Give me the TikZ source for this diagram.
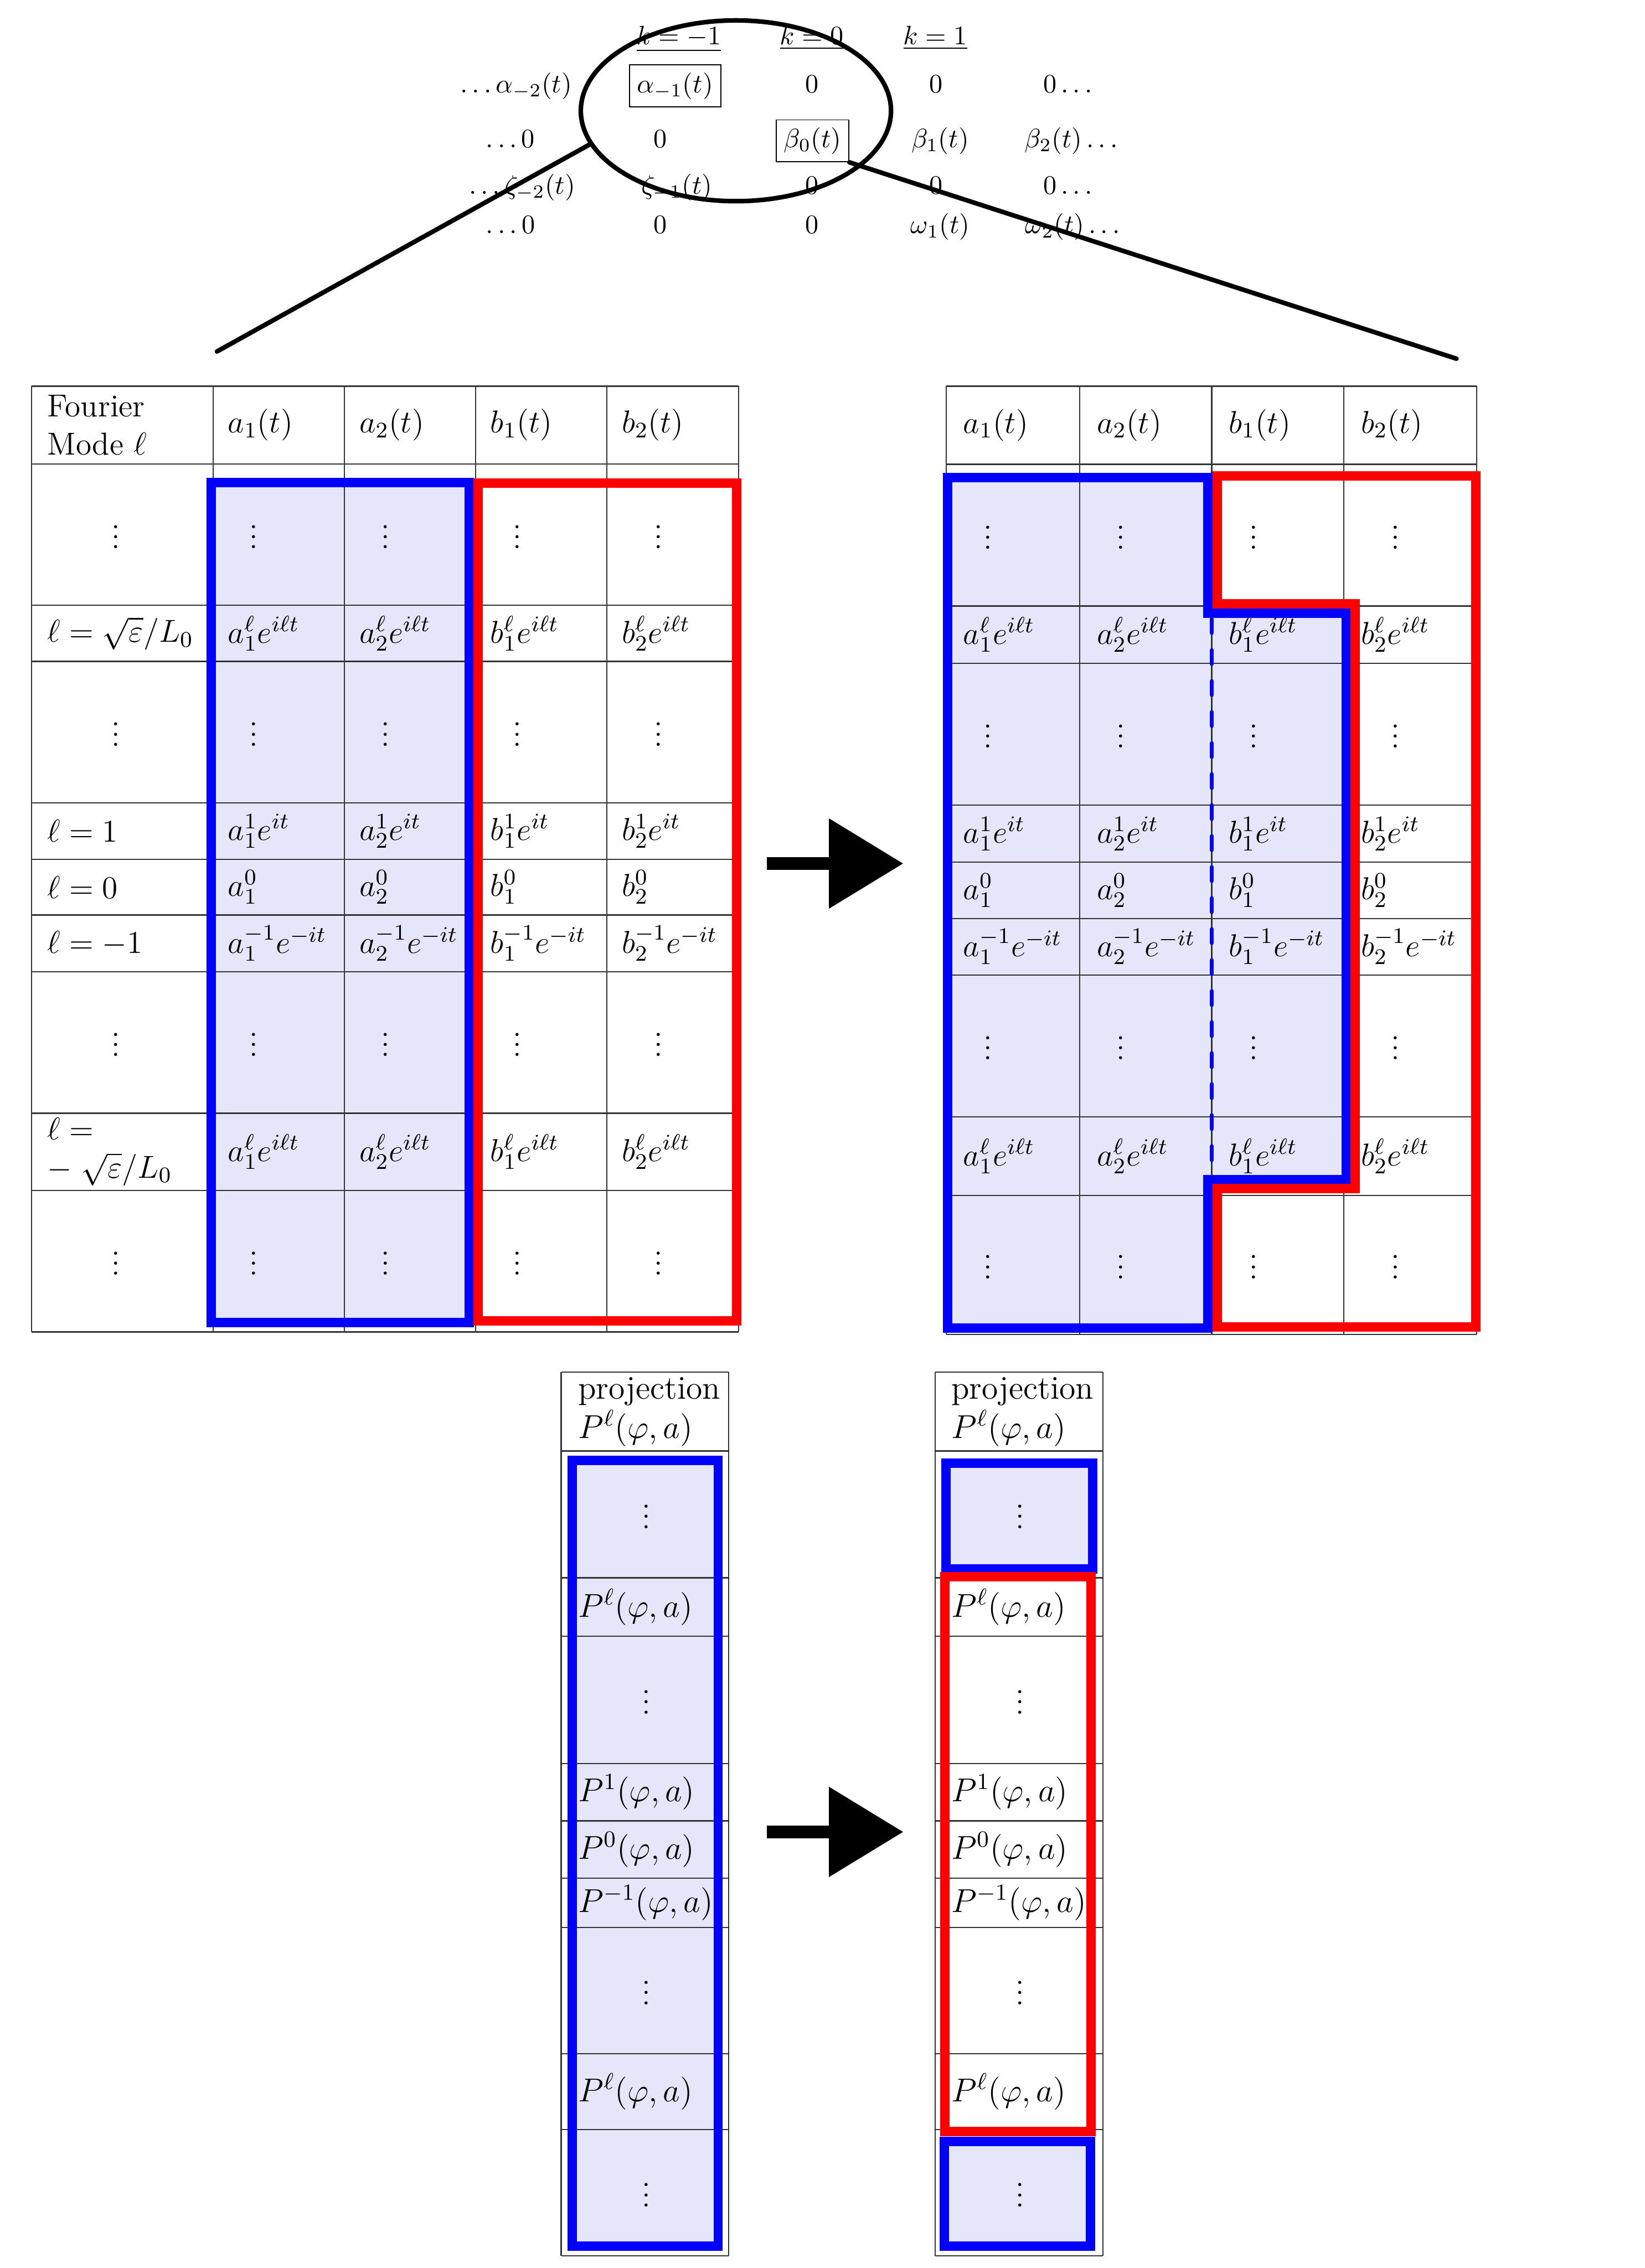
\RequirePackage{fix-cm}
\documentclass[tikz,border=0pt]{standalone}
\usetikzlibrary{arrows.meta, shapes.geometric}
\definecolor{lav}{RGB}{230,230,250}

\begin{document}
\begin{tikzpicture}[x=0.02cm, y=-0.02cm,
  tabline/.style={line width=0.5pt, black!80},
  cell/.style={anchor=west, inner sep=0pt, font=\fontsize{12.5}{15}\selectfont},
  pcell/.style={anchor=west, inner sep=0pt, font=\fontsize{13}{15.5}\selectfont},
  vd/.style={anchor=base, inner sep=0pt, yshift=-5.5pt, font=\fontsize{12.5}{15}\selectfont},
  mtx/.style={anchor=base, inner sep=0pt, font=\fontsize{10.5}{12.5}\selectfont},
  boxed/.style={mtx, draw, line width=0.4pt, inner sep=3pt},
  blueband/.style={draw=blue, line width=3.7pt},
  redband/.style={draw=red, line width=3.7pt},
  lensline/.style={line width=1.8pt, line cap=round},
  bigarrow/.style={line width=5pt, -{Triangle[length=29.3pt, width=34.2pt]}}]
  \useasboundingbox (0,0) rectangle (1137,1568);

  % coefficient array at the top
  \node[mtx] (kA) at (469.3,31) {$\underline{k=-1}$};
  \node[mtx] (kB) at (561.3,31) {$\underline{k=0}$};
  \node[mtx] (kC) at (646.7,31) {$\underline{k=1}$};

  \node[mtx] (r1a) at (356.9,64) {$\ldots\alpha_{-2}(t)$};
  \node[boxed] (am1) at (466.7,64) {$\alpha_{-1}(t)$};
  \node[mtx] (r1c) at (561.3,64) {$0$};
  \node[mtx] (r1d) at (647.3,64) {$0$};
  \node[mtx] (r1e) at (738.3,64) {$0\ldots$};

  \node[mtx] (r2a) at (352.9,102) {$\ldots0$};
  \node[mtx] (r2b) at (456.4,102) {$0$};
  \node[boxed] (b0) at (561.8,102) {$\beta_0(t)$};
  \node[mtx] (r2d) at (650,102) {$\beta_1(t)$};
  \node[mtx] (r2e) at (740.6,102) {$\beta_2(t)\ldots$};

  \node[mtx] (r3a) at (361,134) {$\ldots\zeta_{-2}(t)$};
  \node[mtx] (r3b) at (468,134) {$\zeta_{-1}(t)$};
  \node[mtx] (r3c) at (561.3,134) {$0$};
  \node[mtx] (r3d) at (647.3,134) {$0$};
  \node[mtx] (r3e) at (738.3,134) {$0\ldots$};

  \node[mtx] (r4a) at (353,161.5) {$\ldots0$};
  \node[mtx] (r4b) at (456.4,161.5) {$0$};
  \node[mtx] (r4c) at (561.3,161.5) {$0$};
  \node[mtx] (r4d) at (650,161.5) {$\omega_1(t)$};
  \node[mtx] (r4e) at (741.6,161.5) {$\omega_2(t)\ldots$};

  \node[ellipse, draw, line width=1.8pt, inner sep=0pt, minimum width=4.29cm, minimum height=2.5cm] (lens) at (508.8,76.6) {};
  \coordinate (zl) at (150,243);
  \coordinate (zr) at (1007,248);
  \draw[lensline] (lens.193.6) -- (zl);
  \draw[lensline] (b0.south east) -- (zr);

  % left table
  \fill[lav] (146,333.7) rectangle (324.5,914.3);
  \foreach \x in {21.8,147.3,238.1,328.8,419.6,510.7}
    \draw[tabline] (\x,267) -- (\x,920.8);
  \foreach \y in {267,320.7,418.5,457.3,555,594.2,632.6,671.8,769.6,823,920.8}
    \draw[tabline] (21.8,\y) -- (510.7,\y);

  \node[cell, align=left] (Lhead) at (32.5,293.8) {Fourier\\Mode $\ell$};
  \node[cell] (Lpos) at (32.5,437.9) {$\ell=\sqrt{\varepsilon}/L_0$};
  \node[cell] (Lone) at (32.5,574.6) {$\ell=1$};
  \node[cell] (Lzero) at (32.5,613.4) {$\ell=0$};
  \node[cell] (Lmone) at (32.5,652.2) {$\ell=-1$};
  \node[cell, align=left] (Lneg) at (32.5,796.3) {$\ell=$\\$-\;\sqrt{\varepsilon}/L_0$};

  \foreach \nm/\ix/\x [count=\i] in {a/1/147.3,a/2/238.1,b/1/328.8,b/2/419.6} {
    \node[cell] (Lh\i) at (\x+10,293.8) {$\nm_\ix(t)$};
    \node[cell] (Lp\i) at (\x+10,437.9) {$\nm_\ix^\ell e^{i\ell t}$};
    \node[cell] (Lo\i) at (\x+10,574.6) {$\nm_\ix^1e^{it}$};
    \node[cell] (Lz\i) at (\x+10,613.4) {$\nm_\ix^0$};
    \node[cell] (Lm\i) at (\x+10,652.2) {$\nm_\ix^{-1}e^{-it}$};
    \node[cell] (Ln\i) at (\x+10,796.3) {$\nm_\ix^\ell e^{i\ell t}$};
  }
  \foreach \x [count=\i] in {80,175.5,266.6,357.6,455.4}
    \foreach \y [count=\j] in {369.6,506.2,720.7,871.9}
      \node[vd] (Ld\i\j) at (\x,\y) {$\vdots$};

  \draw[blueband] (146,333.7) rectangle (324.5,914.3);
  \draw[redband] (330.4,334) rectangle (509.3,913);

  % right table
  \fill[lav] (655,330) -- (835,330) -- (835,424) -- (930.7,424) -- (930.7,815.5)
    -- (835,815.5) -- (835,918) -- (655,918) -- cycle;
  \foreach \x in {654.2,746.5,837.8,929.2,1021}
    \draw[tabline] (\x,267) -- (\x,922.5);
  \foreach \y in {267,321,419,458.5,556.5,596,635,674,772,826.5,922.5}
    \draw[tabline] (654.2,\y) -- (1021,\y);

  \foreach \nm/\ix/\x [count=\i] in {a/1/654.2,a/2/746.5,b/1/837.8,b/2/929.2} {
    \node[cell] (Rh\i) at (\x+11.5,294) {$\nm_\ix(t)$};
    \node[cell] (Rp\i) at (\x+11.5,438.8) {$\nm_\ix^\ell e^{i\ell t}$};
    \node[cell] (Ro\i) at (\x+11.5,576.3) {$\nm_\ix^1e^{it}$};
    \node[cell] (Rz\i) at (\x+11.5,615.5) {$\nm_\ix^0$};
    \node[cell] (Rm\i) at (\x+11.5,654.5) {$\nm_\ix^{-1}e^{-it}$};
    \node[cell] (Rn\i) at (\x+11.5,799.3) {$\nm_\ix^\ell e^{i\ell t}$};
  }
  \foreach \x [count=\i] in {683.2,775,866.7,964.9}
    \foreach \y [count=\j] in {370,507.5,723,874.5}
      \node[vd] (Rd\i\j) at (\x,\y) {$\vdots$};

  \draw[blue, line width=1.5pt, line cap=round, dash pattern=on 5.5pt off 6.7pt] (837.8,428) -- (837.8,812.3);
  \draw[blueband] (655,330) -- (835,330) -- (835,424) -- (930.7,424) -- (930.7,815.5)
    -- (835,815.5) -- (835,918) -- (655,918) -- cycle;
  \draw[redband] (841.7,329) -- (1020.2,329) -- (1020.2,917.4) -- (841.7,917.4)
    -- (841.7,821.7) -- (936.8,821.7) -- (936.8,417.6) -- (841.7,417.6) -- cycle;

  \coordinate (aS) at (530,597);
  \coordinate (aE) at (624.6,597);
  \draw[bigarrow] (aS) -- (aE);

  % projection columns
  \fill[lav] (395.5,1009.5) rectangle (496.5,1552.8);
  \fill[lav] (654,1011.4) rectangle (755.3,1084.7);
  \fill[lav] (653,1480.5) rectangle (754,1552.8);
  \foreach \xa/\xb in {388/503.8,646.5/762.6} {
    \draw[tabline] (\xa,948.7) -- (\xa,1559.6);
    \draw[tabline] (\xb,948.7) -- (\xb,1559.6);
    \foreach \y in {948.7,1003.2,1090.8,1131.3,1219.2,1258.9,1298.5,1332.6,1419.8,1472.4,1559.6}
      \draw[tabline] (\xa,\y) -- (\xb,\y);
  }
  \foreach \x/\c [count=\i] in {399.5/446.7,657.5/705.3} {
    \node[pcell, align=left] (Ph\i) at (\x,976) {projection\\$P^\ell(\varphi,a)$};
    \node[pcell] (Pp\i) at (\x,1111) {$P^\ell(\varphi,a)$};
    \node[pcell] (Po\i) at (\x,1239) {$P^1(\varphi,a)$};
    \node[pcell] (Pz\i) at (\x,1278.7) {$P^0(\varphi,a)$};
    \node[pcell] (Pm\i) at (\x,1315.5) {$P^{-1}(\varphi,a)$};
    \node[pcell] (Pn\i) at (\x,1446.1) {$P^\ell(\varphi,a)$};
    \foreach \y [count=\j] in {1047,1175.2,1376.2,1516}
      \node[vd] (Pd\i\j) at (\c,\y) {$\vdots$};
  }
  \draw[blueband] (395.5,1009.5) rectangle (496.5,1552.8);
  \draw[blueband] (654,1011.4) rectangle (755.3,1084.7);
  \draw[redband] (653.2,1090) rectangle (754.5,1473.8);
  \draw[blueband] (653,1480.5) rectangle (754,1552.8);

  \coordinate (bS) at (530,1266.5);
  \coordinate (bE) at (624.6,1266.5);
  \draw[bigarrow] (bS) -- (bE);
\end{tikzpicture}
\end{document}
